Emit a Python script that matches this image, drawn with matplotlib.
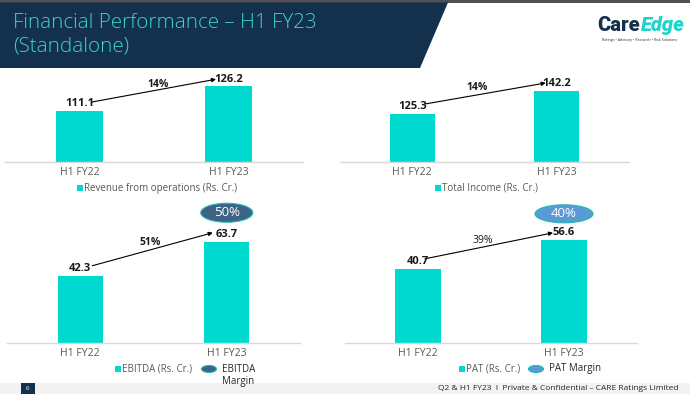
import matplotlib
matplotlib.use('Agg')
import matplotlib.pyplot as plt
from matplotlib.patches import Rectangle, Ellipse, Polygon
import matplotlib.transforms as mtransforms

# ---------------- data ----------------
categories = ['H1 FY22', 'H1 FY23']
revenue = [111.1, 126.2]
total_income = [125.3, 142.2]
ebitda = [42.3, 63.7]
pat = [40.7, 56.6]
growth_labels = ['14%', '14%', '51%', '39%']
margin_labels = [None, None, '50%', '40%']
series_names = ['Revenue from operations (Rs. Cr.)', 'Total Income (Rs. Cr.)',
                'EBITDA (Rs. Cr.)', 'PAT (Rs. Cr.)']
margin_names = [None, None, 'EBITDA\nMargin', 'PAT Margin']

# ---------------- style ----------------
plt.rcParams['font.family'] = ['Open Sans', 'DejaVu Sans']
W, H = 690, 394
TEAL = '#00DACE'
NAVY = '#13304D'
TITLE_TEAL = '#3CD3CB'
GRAY = '#595959'

fig = plt.figure(figsize=(W / 100, H / 100), dpi=100)

# background axes in pixel coordinates
bg = fig.add_axes([0, 0, 1, 1], zorder=-1)
bg.set_xlim(0, W)
bg.set_ylim(H, 0)
bg.axis('off')

# header
bg.add_patch(Rectangle((0, 0), W, 2.5, color='#505050', lw=0))
bg.add_patch(Polygon([(0, 2.5), (448, 2.5), (420, 68), (0, 68)], closed=True, color=NAVY, lw=0))
bg.text(13, 23, 'Financial Performance – H1 FY23', color=TITLE_TEAL, fontsize=14.8,
        fontweight='light', va='center', ha='left')
bg.text(13, 46, '(Standalone)', color=TITLE_TEAL, fontsize=14.8,
        fontweight='light', va='center', ha='left')

# logo
bg.text(640, 25, 'Care', color=NAVY, fontsize=14.5, fontweight='heavy', va='center', ha='right',
        family=['Roboto', 'DejaVu Sans'])
bg.text(640.5, 25, 'Edge', color='#1ED3C9', fontsize=14.5, fontweight='heavy', style='italic',
        va='center', ha='left', family=['Roboto', 'DejaVu Sans'])
bg.text(640, 40, 'Ratings • Advisory • Research • Risk Solutions', color='#333333', fontsize=2.6,
        va='center', ha='center')

# footer
bg.add_patch(Rectangle((0, 383), W, 11, color='#F2F2F2', lw=0))
bg.add_patch(Rectangle((21, 383), 14, 11, color=NAVY, lw=0))
bg.text(28, 389, '6', color='white', fontsize=4.5, ha='center', va='center')
bg.text(679, 389, 'Q2 & H1 FY23  I  Private & Confidential – CARE Ratings Limited',
        color='#262626', fontsize=6, ha='right', va='center')

# ---------------- panels ----------------
# (values, x0, x1, baseline_y, top_y, ylim)
panels = [
    (revenue, 5, 303, 162, 70, (80, 136.1)),
    (total_income, 340, 629, 162, 70, (90, 157.6)),
    (ebitda, 7, 300, 343, 205, (0, 86.8)),
    (pat, 345, 637, 343, 205, (0, 75.7)),
]
# arrow offsets in pixels (start dx, dy-up ; end dx, dy-up)
arrow_offsets = [(12.5, 9, -12.5, 7), (13, 10, -11, 8), (12, 10, -14, 9), (7, 10, -11, 7)]
growth_offsets = [(4, 14.5), (-7, 14.5), (-3, 16), (-8, 14)]
growth_bold = [True, True, True, False]
margin_style = [None, None, ('#3D6387', 52, 19, 29), ('#5B9BD5', 58, 18, 26)]

axes = []
for i, (vals, x0, x1, yb, yt, ylim) in enumerate(panels):
    ax = fig.add_axes([x0 / W, 1 - yb / H, (x1 - x0) / W, (yb - yt) / H])
    axes.append(ax)
    xs = list(range(len(categories)))
    ax.bar(xs, vals, width=0.31, color=TEAL, zorder=2)
    ax.set_xlim(-0.5, 1.5)
    ax.set_ylim(*ylim)
    ax.set_xticks(xs)
    ax.set_xticklabels(categories, color=GRAY, fontsize=7.5)
    ax.tick_params(axis='x', length=0, pad=3.5)
    ax.set_yticks([])
    for s in ['top', 'left', 'right']:
        ax.spines[s].set_visible(False)
    ax.spines['bottom'].set_color('#D9D9D9')
    ax.spines['bottom'].set_linewidth(1)
    ax.patch.set_alpha(0)

    # value labels
    for xv, v in zip(xs, vals):
        ax.annotate(f'{v}', (xv, v), xytext=(0, 5.2), textcoords='offset points',
                    ha='center', va='center', fontsize=8, fontweight='bold', color='#1A1A1A')

    # arrow
    sdx, sdy, edx, edy = arrow_offsets[i]
    t_start = ax.transData + mtransforms.ScaledTranslation(sdx / 100, sdy / 100, fig.dpi_scale_trans)
    t_end = ax.transData + mtransforms.ScaledTranslation(edx / 100, edy / 100, fig.dpi_scale_trans)
    ax.annotate('', xy=(1, vals[1]), xycoords=t_end, xytext=(0, vals[0]), textcoords=t_start,
                arrowprops=dict(arrowstyle='-|>', color='black', lw=0.8, shrinkA=0, shrinkB=0,
                                mutation_scale=6), annotation_clip=False)

    # growth label
    gdx, gdy = growth_offsets[i]
    ax.annotate(growth_labels[i], (0.5, (vals[0] + vals[1]) / 2),
                xytext=(gdx * 0.72, gdy * 0.72), textcoords='offset points',
                ha='center', va='center', fontsize=7.5,
                fontweight='bold' if growth_bold[i] else 'normal', color='#1A1A1A',
                annotation_clip=False)

    # margin ellipse
    if margin_labels[i]:
        col, ew, eh, up = margin_style[i]
        trans = fig.dpi_scale_trans + mtransforms.ScaledTranslation(1, vals[1], ax.transData)
        fig.add_artist(Ellipse((0, up / 100), ew / 100, eh / 100, transform=trans,
                               facecolor=col, edgecolor='#1FB8B0', lw=0.8, zorder=5))
        fig.text(0, up / 100, margin_labels[i], transform=trans, color='white', fontsize=9.5,
                 ha='center', va='center', zorder=6)

# ---------------- legends (pixel coordinates) ----------------
def legend_square(x, y, label):
    bg.add_patch(Rectangle((x - 3, y - 3), 6, 6, color=TEAL, lw=0))
    bg.text(x + 4.5, y, label, color=GRAY, fontsize=7, ha='left', va='center')

def legend_ellipse(x, y, col, label, multiline=False):
    bg.add_patch(Ellipse((x, y), 15, 7, facecolor=col, edgecolor='#1FB8B0', lw=0.8))
    bg.text(x + 13, y - 4.5 if multiline else y, label, color='#262626', fontsize=7,
            ha='left', va='top' if multiline else 'center', linespacing=1.1)

legend_square(80, 188, series_names[0])
legend_square(438, 188, series_names[1])
legend_square(118, 369, series_names[2])
legend_ellipse(209, 369, '#3D6387', margin_names[2], multiline=True)
legend_square(462, 369, series_names[3])
legend_ellipse(536, 369, '#5B9BD5', margin_names[3])

fig.savefig('out.png', dpi=100)
